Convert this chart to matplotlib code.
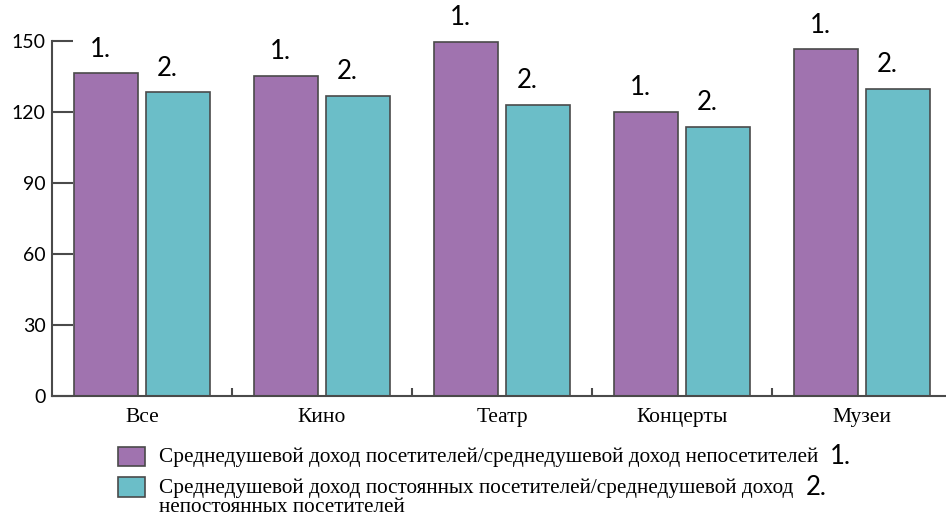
import numpy as np
import matplotlib.pyplot as plt
from matplotlib.patches import Rectangle

categories = ["Все", "Кино", "Театр", "Концерты", "Музеи"]
ratio_visitors = [136.4, 135.3, 149.6, 120.0, 146.5]
ratio_regular = [128.4, 126.8, 123.0, 113.7, 129.7]
bar_marks = ["1.", "2."]
legend_labels = [
    "Среднедушевой доход посетителей/среднедушевой доход непосетителей",
    "Среднедушевой доход постоянных посетителей/среднедушевой доход\nнепостоянных посетителей",
]
y_ticks = [0, 30, 60, 90, 120, 150]

PURPLE = "#a073af"
TEAL = "#6bbec8"
EDGE = "#4a4a4a"
SANS = ["Lato", "DejaVu Sans"]
SERIF = ["Liberation Serif", "DejaVu Serif"]

W, H = 946, 518
fig = plt.figure(figsize=(W / 100, H / 100), dpi=100)
left, right = 52, 946
bottom, top = 395.7, 41
ax = fig.add_axes([left / W, 1 - bottom / H, (right - left) / W, (bottom - top) / H])

x = np.arange(len(categories))
width = 0.36
ax.bar(x - 0.2, ratio_visitors, width, color=PURPLE, edgecolor=EDGE, linewidth=1.2)
ax.bar(x + 0.2, ratio_regular, width, color=TEAL, edgecolor=EDGE, linewidth=1.2)

for xi, v in zip(x, ratio_visitors):
    ax.text(xi - 0.23, v + 7, bar_marks[0], ha="center", va="baseline",
            fontsize=18.5, family=SANS, clip_on=False)
for xi, v in zip(x, ratio_regular):
    ax.text(xi + 0.14, v + 7, bar_marks[1], ha="center", va="baseline",
            fontsize=18.5, family=SANS, clip_on=False)

ax.set_xlim(-0.5, -0.5 + (right - left) / 180)
ax.set_ylim(0, 150)
ax.set_yticks(y_ticks)
ax.set_yticklabels([str(t) for t in y_ticks], family=SANS, fontsize=14)
ax.tick_params(axis="y", direction="in", length=15, width=1.5, color=EDGE, pad=-3)
for lab in ax.get_yticklabels():
    lab.set_x(-0.012)

ax.set_xticks(x)
ax.set_xticklabels(categories, family=SERIF, fontsize=15.5)
ax.tick_params(axis="x", which="major", length=0, pad=9)
ax.set_xticks(x[:-1] + 0.5, minor=True)
ax.tick_params(axis="x", which="minor", direction="in", length=6, width=1.5, color=EDGE)

for s in ["top", "right"]:
    ax.spines[s].set_visible(False)
for s in ["left", "bottom"]:
    ax.spines[s].set_linewidth(1.5)
    ax.spines[s].set_color(EDGE)

# legend drawn by hand so that the "1." / "2." marks can follow the text
# (box top, box bottom, baseline of first text line)
rows = [(447, 466, 462), (477, 497, 493)]
fig.canvas.draw()
renderer = fig.canvas.get_renderer()
for (y0, y1, base), label, color, mark in zip(rows, legend_labels, [PURPLE, TEAL], bar_marks):
    fig.patches.append(Rectangle((118 / W, 1 - y1 / H), 27 / W, (y1 - y0) / H,
                                 transform=fig.transFigure, facecolor=color,
                                 edgecolor=EDGE, linewidth=1.2))
    lines = label.split("\n")
    for k, line in enumerate(lines):
        t = fig.text(159 / W, 1 - (base + 18.5 * k) / H, line, ha="left", va="baseline",
                     family=SERIF, fontsize=15.3)
        if k == 0:
            bb = t.get_window_extent(renderer)
    fig.text((bb.x1 + 12) / W, 1 - (base + 2) / H, mark, ha="left", va="baseline",
             family=SANS, fontsize=18.5)

fig.savefig("out.png", dpi=100)
